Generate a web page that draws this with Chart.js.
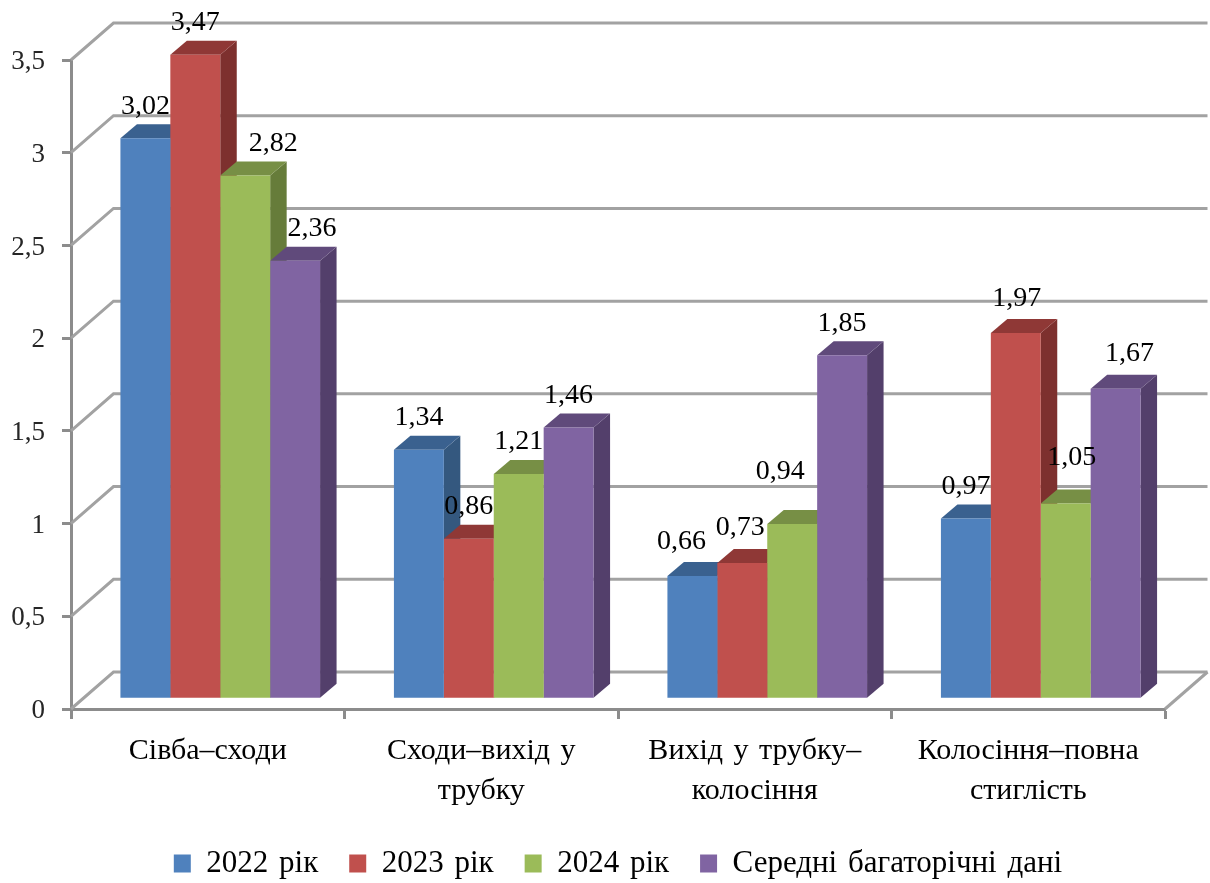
<!DOCTYPE html>
<html>
<head>
<meta charset="utf-8">
<script src="https://cdn.jsdelivr.net/npm/chart.js@4"></script>
<style>
  body { margin: 0; background: #fff; }
  canvas { display: block; }
</style>
</head>
<body>
<canvas id="myChart" width="1210" height="883"></canvas>
<script>
const categories = [
  ["Сівба–сходи"],
  ["Сходи–вихід у", "трубку"],
  ["Вихід у трубку–", "колосіння"],
  ["Колосіння–повна", "стиглість"]
];
const seriesNames = ["2022 рік", "2023 рік", "2024 рік", "Середні багаторічні дані"];
const values2022 = [3.02, 1.34, 0.66, 0.97];
const values2023 = [3.47, 0.86, 0.73, 1.97];
const values2024 = [2.82, 1.21, 0.94, 1.05];
const valuesAvg = [2.36, 1.46, 1.85, 1.67];

const frontColors = ["#4F81BD", "#C0504D", "#9BBB59", "#8064A2"];
const topColors = ["#3A618F", "#8F3836", "#778F45", "#604A7B"];
const sideColors = ["#34587F", "#7D302E", "#667C3A", "#533F6B"];

const serif = "'Liberation Serif', serif";
const gridColor = "#A2A2A2";

// fake 3d: where the back wall sits, and how deep a bar is
const wall = { dx: 42.5, dy: -37 };
const barShift = { x: 12.5, y: -10.7 };
const barDepth = { dx: 16.5, dy: -14 };

// data labels that were moved by hand in the original: "series-category": [x, y]
const labelNudge = {
  "2-0": [28, 0],
  "3-0": [17, 0],
  "0-2": [-11, -2],
  "1-2": [-2, -3],
  "2-2": [-12, -20],
  "1-3": [1, -2],
  "2-3": [6, -14],
  "3-3": [14, -3]
};

function polygon(ctx, points, color) {
  ctx.fillStyle = color;
  ctx.beginPath();
  points.forEach((p, i) => i ? ctx.lineTo(p[0], p[1]) : ctx.moveTo(p[0], p[1]));
  ctx.closePath();
  ctx.fill();
}

function drawWalls(chart) {
  const ctx = chart.ctx;
  const y = chart.scales.y;
  const left = chart.chartArea.left;
  const right = chart.chartArea.right;
  ctx.save();
  ctx.strokeStyle = gridColor;
  ctx.lineWidth = 3;
  y.ticks.forEach(t => {
    const py = y.getPixelForValue(t.value);
    ctx.beginPath();
    ctx.moveTo(left, py);
    ctx.lineTo(left + wall.dx, py + wall.dy);
    ctx.lineTo(right + wall.dx, py + wall.dy);
    ctx.stroke();
  });
  const floor = y.getPixelForValue(0);
  ctx.beginPath();
  ctx.moveTo(right, floor);
  ctx.lineTo(right + wall.dx, floor + wall.dy);
  ctx.stroke();
  ctx.restore();
}

function drawBarFaces(chart) {
  const ctx = chart.ctx;
  chart.data.datasets.forEach((ds, d) => {
    chart.getDatasetMeta(d).data.forEach(bar => {
      const l = bar.x - bar.width / 2;
      const r = bar.x + bar.width / 2;
      const dx = barDepth.dx;
      const dy = barDepth.dy;
      polygon(ctx, [[r, bar.y], [r + dx, bar.y + dy], [r + dx, bar.base + dy], [r, bar.base]], sideColors[d]);
      polygon(ctx, [[l, bar.y], [l + dx, bar.y + dy], [r + dx, bar.y + dy], [r, bar.y]], topColors[d]);
    });
  });
}

function drawValueLabels(chart) {
  const ctx = chart.ctx;
  ctx.save();
  ctx.font = "28px " + serif;
  ctx.fillStyle = "#000";
  ctx.textAlign = "center";
  ctx.textBaseline = "middle";
  chart.data.datasets.forEach((ds, d) => {
    chart.getDatasetMeta(d).data.forEach((bar, i) => {
      const nudge = labelNudge[d + "-" + i] || [0, 0];
      const text = ds.data[i].toFixed(2).replace(".", ",");
      ctx.fillText(text, bar.x + barShift.x + nudge[0], bar.y + barShift.y - 32 + nudge[1]);
    });
  });
  ctx.restore();
}

const fake3d = {
  id: "fake3d",
  beforeLayout(chart) {
    chart.ctx.wordSpacing = "3px";
  },
  beforeDatasetsDraw(chart) {
    drawWalls(chart);
    chart.ctx.save();
    chart.ctx.translate(barShift.x, barShift.y);
    drawBarFaces(chart);
  },
  afterDatasetsDraw(chart) {
    chart.ctx.restore();
    drawValueLabels(chart);
  }
};

const allValues = [values2022, values2023, values2024, valuesAvg];

new Chart("myChart", {
  type: "bar",
  data: {
    labels: categories,
    datasets: seriesNames.map((name, i) => ({
      label: name,
      data: allValues[i],
      backgroundColor: frontColors[i],
      borderWidth: 0,
      clip: false,
      categoryPercentage: 0.73,
      barPercentage: 1
    }))
  },
  options: {
    responsive: false,
    animation: false,
    layout: {
      autoPadding: false,
      // negative right side only moves the centred legend to where it was
      padding: { top: 60, left: 0, right: -26, bottom: -6 }
    },
    plugins: {
      tooltip: { enabled: false },
      legend: {
        position: "bottom",
        labels: {
          boxWidth: 17,
          boxHeight: 18,
          padding: 31,
          color: "#000",
          font: { family: serif, size: 31 }
        }
      }
    },
    scales: {
      x: {
        afterFit: s => { s.height = 108; },
        grid: { offset: true, drawOnChartArea: false, tickLength: 10, tickColor: "#8C8C8C", tickWidth: 3 },
        border: { color: "#8C8C8C", width: 3 },
        ticks: {
          color: "#000",
          padding: 12,
          maxRotation: 0,
          font: { family: serif, size: 30, lineHeight: 1.33 }
        }
      },
      y: {
        min: 0,
        max: 3.5,
        afterFit: s => { s.width = 71; },
        grid: { drawOnChartArea: false, tickLength: 9, tickColor: "#8C8C8C", tickWidth: 3 },
        border: { color: "#8C8C8C", width: 3 },
        ticks: {
          stepSize: 0.5,
          color: "#262626",
          padding: 17,
          labelOffset: 2,
          font: { family: serif, size: 27 },
          callback: v => String(v).replace(".", ",")
        }
      },
      // empty axis, only keeps the plot clear of the right side
      yPad: {
        position: "right",
        afterFit: s => { s.width = 71; },
        grid: { display: false },
        border: { display: false },
        ticks: { display: false }
      }
    }
  },
  plugins: [fake3d]
});
</script>
</body>
</html>
